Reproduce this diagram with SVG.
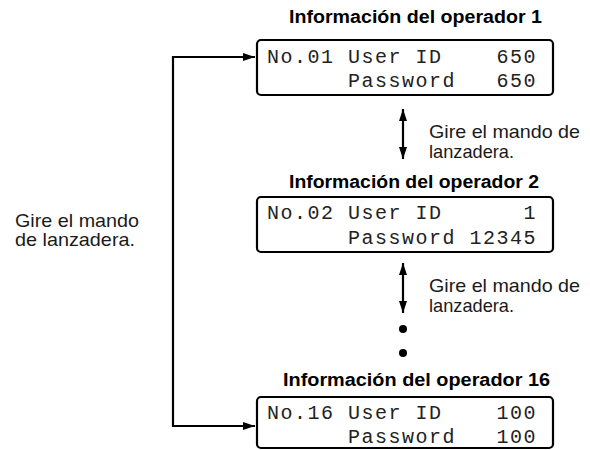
<svg xmlns="http://www.w3.org/2000/svg" width="590" height="450" viewBox="0 0 590 450">
<style>
.title{font-family:"Liberation Sans",Arial,sans-serif;font-weight:bold;font-size:17.5px;fill:#000}
.lbl{font-family:"Liberation Sans",Arial,sans-serif;font-size:18.5px;fill:#1a1a1a}
.mono{font-family:"Liberation Mono","Courier New",monospace;font-size:20px;fill:#222;letter-spacing:1.5px}
.box{fill:#fff;stroke:#000;stroke-width:2.2}
.ln{fill:none;stroke:#000;stroke-width:2.2}
</style>
<defs>
<marker id="ah" viewBox="0 0 12 8" refX="12" refY="4" markerWidth="12" markerHeight="8" markerUnits="userSpaceOnUse" orient="auto-start-reverse">
<path d="M0,0 L12,4 L0,8 Z" fill="#000"/>
</marker>
</defs>
<g id="connectors">
<path class="ln" d="M255,57 H173 V426 H255" marker-start="url(#ah)" marker-end="url(#ah)"/>
<line class="ln" x1="403" y1="109" x2="403" y2="159" marker-start="url(#ah)" marker-end="url(#ah)"/>
<line class="ln" x1="403" y1="263" x2="403" y2="313" marker-start="url(#ah)" marker-end="url(#ah)"/>
<circle cx="403" cy="329" r="4" fill="#000"/>
<circle cx="403" cy="353" r="4" fill="#000"/>
<text class="lbl" x="429" y="138" textLength="151" lengthAdjust="spacingAndGlyphs">Gire el mando de</text>
<text class="lbl" x="429" y="158" textLength="85" lengthAdjust="spacingAndGlyphs">lanzadera.</text>
<text class="lbl" x="429" y="292" textLength="151" lengthAdjust="spacingAndGlyphs">Gire el mando de</text>
<text class="lbl" x="429" y="312" textLength="85" lengthAdjust="spacingAndGlyphs">lanzadera.</text>
<text class="lbl" x="15" y="227" textLength="124" lengthAdjust="spacingAndGlyphs">Gire el mando</text>
<text class="lbl" x="15" y="246" textLength="120" lengthAdjust="spacingAndGlyphs">de lanzadera.</text>
</g>
<g id="op1">
<text class="title" x="289" y="23" textLength="253" lengthAdjust="spacingAndGlyphs">Información del operador 1</text>
<rect class="box" x="257" y="40" width="296" height="55" rx="4"/>
<text class="mono" x="267" y="63" xml:space="preserve">No.01 User ID    650</text>
<text class="mono" x="267" y="87" xml:space="preserve">      Password   650</text>
</g>
<g id="op2">
<text class="title" x="289" y="188" textLength="250" lengthAdjust="spacingAndGlyphs">Información del operador 2</text>
<rect class="box" x="257" y="197" width="296" height="55" rx="4"/>
<text class="mono" x="267" y="219" xml:space="preserve">No.02 User ID      1</text>
<text class="mono" x="267" y="244" xml:space="preserve">      Password 12345</text>
</g>
<g id="op16">
<text class="title" x="283" y="386" textLength="267" lengthAdjust="spacingAndGlyphs">Información del operador 16</text>
<rect class="box" x="257" y="397" width="296" height="51" rx="4"/>
<text class="mono" x="267" y="419" xml:space="preserve">No.16 User ID    100</text>
<text class="mono" x="267" y="443" xml:space="preserve">      Password   100</text>
</g>
</svg>
